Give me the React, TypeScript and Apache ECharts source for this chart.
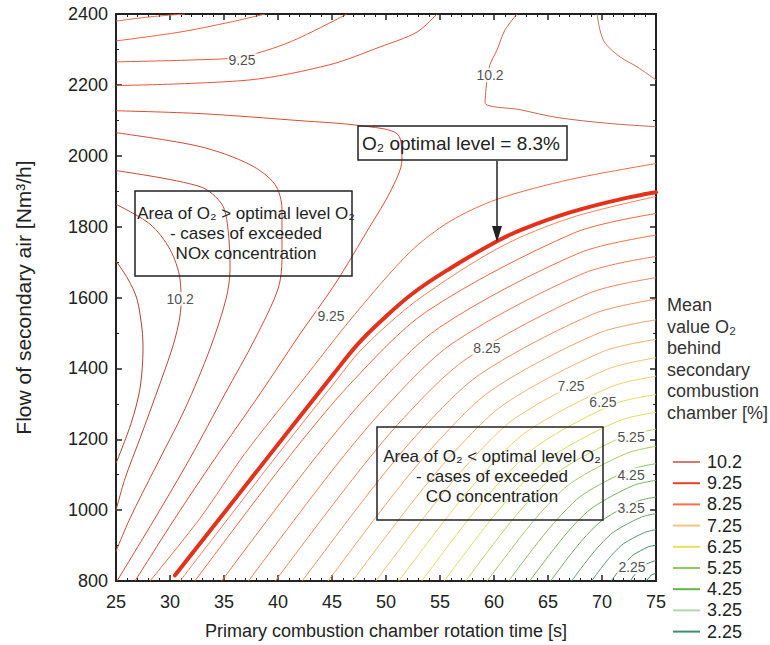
import React, { useEffect, useRef } from "react";
import * as echarts from "echarts";

const FONT = "'Liberation Sans', Arial, Helvetica, sans-serif";

// axis ranges
const xMin = 25, xMax = 75, xStep = 5;
const yMin = 800, yMax = 2400, yStep = 200;

// legend levels (mean O2 behind secondary combustion chamber, %)
const legendLevels = ["10.2", "9.25", "8.25", "7.25", "6.25", "5.25", "4.25", "3.25", "2.25"];

// ---- contour lines: [rotation time s, secondary air Nm3/h] ----
// upper-left family
const lineA1 = [[25, 2380], [28.15, 2392], [31.39, 2400]];
const lineA2 = [[25, 2324], [30.93, 2349], [35.56, 2377], [38.8, 2400]];
const lineA3 = [[25, 2265], [32.78, 2271], [36.67, 2279], [41.11, 2321], [46.39, 2400]];
const lineA4 = [[25, 2198], [37.41, 2214], [44.81, 2257], [49.44, 2307], [52.87, 2349], [54.72, 2400]];
const lineA5 = [[25, 2127], [32.78, 2119], [42.04, 2099], [47.59, 2085], [51.11, 2060], [51.48, 1989], [50.37, 1897], [48.52, 1801], [45.28, 1638], [42.04, 1497], [38.33, 1328], [34.17, 1146], [30.46, 977], [26.76, 800]];
const lineA6 = [[25, 2065], [32.78, 2026], [37.41, 1975], [39.72, 1919], [40.37, 1849], [40.37, 1708], [40.0, 1624], [37.87, 1483], [35.09, 1328], [31.85, 1146], [28.61, 977], [25.09, 800]];
const lineA7 = [[25, 1958], [32.78, 1913], [34.81, 1863], [35.37, 1793], [35.56, 1680], [35.19, 1596], [33.7, 1455], [31.39, 1286], [28.61, 1118], [26.3, 977], [25, 884]];
const lineA8 = [[25, 1863], [28.15, 1807], [30.0, 1736], [30.93, 1652], [31.02, 1582], [30.46, 1483], [29.07, 1357], [27.22, 1202], [25.83, 1089], [25, 999]];
const lineA9 = [[25, 1703], [26.11, 1652], [26.94, 1596], [27.41, 1511], [27.5, 1455], [27.22, 1343], [26.39, 1244], [25, 1132]];
const lineAbove = [[28.15, 800], [32.78, 977], [36.94, 1160], [42.04, 1357], [47.13, 1553], [52.22, 1728], [55.93, 1815], [60.28, 1877], [67.04, 1933], [75, 1978]];
// upper-right family
const lineB1 = [[62.13, 2400], [61.02, 2355], [60.28, 2299], [59.63, 2257], [59.35, 2214], [59.17, 2150], [62.41, 2130], [65.83, 2108], [70.74, 2091], [75, 2082]];
const lineB2 = [[69.54, 2400], [69.81, 2355], [70.28, 2318], [71.67, 2279], [73.24, 2251], [75, 2214]];
// lower-right family
const lineC01 = [[30.93, 800], [39.26, 1129], [45.37, 1365], [47.78, 1455], [52.78, 1590], [60.56, 1742], [67.22, 1826], [75, 1885]];
const lineC02 = [[32.3, 800], [40.96, 1148], [46.74, 1358], [53.74, 1560], [67.48, 1783], [75, 1837]];
const lineC03 = [[34.78, 800], [42.94, 1128], [48.38, 1326], [54.97, 1516], [67.92, 1726], [75, 1776]];
const lineC04 = [[37.27, 800], [44.92, 1108], [50.03, 1293], [56.21, 1472], [68.35, 1669], [75, 1716]];
const lineC05 = [[39.75, 800], [46.9, 1087], [51.67, 1261], [57.45, 1427], [68.79, 1612], [75, 1656]];
const lineC06 = [[42.24, 800], [48.89, 1067], [53.32, 1228], [58.69, 1383], [69.23, 1554], [75, 1595]];
const lineC07 = [[44.63, 800], [50.79, 1048], [54.9, 1197], [59.88, 1341], [69.65, 1499], [75, 1537]];
const lineC08 = [[46.89, 800], [52.6, 1029], [56.4, 1167], [61.0, 1300], [70.05, 1447], [75, 1482]];
const lineC09 = [[49.06, 800], [54.32, 1011], [57.83, 1139], [62.08, 1262], [70.43, 1397], [75, 1430]];
const lineC10 = [[51.18, 800], [56.02, 994], [59.24, 1111], [63.14, 1224], [70.81, 1348], [75, 1378]];
const lineC11 = [[53.31, 800], [57.71, 977], [60.64, 1083], [64.2, 1186], [71.18, 1300], [75, 1326]];
const lineC12 = [[55.39, 800], [59.37, 960], [62.02, 1056], [65.23, 1149], [71.55, 1252], [75, 1276]];
const lineC13 = [[57.38, 800], [60.95, 944], [63.34, 1030], [66.22, 1114], [71.9, 1206], [75, 1228]];
const lineC14 = [[59.36, 800], [62.54, 927], [64.65, 1004], [67.21, 1078], [72.25, 1160], [75, 1180]];
const lineC15 = [[61.35, 800], [64.12, 911], [65.97, 978], [68.2, 1043], [72.6, 1114], [75, 1131]];
const lineC16 = [[63.3, 800], [65.67, 895], [67.25, 953], [69.17, 1008], [72.94, 1070], [75, 1084]];
const lineC17 = [[65.24, 800], [67.22, 880], [68.54, 928], [70.14, 974], [73.28, 1025], [75, 1037]];
const lineC18 = [[67.18, 800], [68.77, 864], [69.83, 902], [71.11, 939], [73.62, 980], [75, 990]];
const lineC19 = [[69.03, 800], [70.25, 849], [71.05, 878], [72.03, 906], [73.95, 937], [75, 945]];
const lineC20 = [[70.84, 800], [71.69, 834], [72.25, 854], [72.93, 874], [74.27, 896], [75, 901]];
const lineC21 = [[72.6, 800], [73.09, 820], [73.81, 843], [75, 858]];
const lineC22 = [[74.1, 800], [74.55, 816], [75, 822]];
// optimal O2 level line (8.3 %)
const optimalLine = [[30.46, 816], [38.98, 1146], [45.09, 1382], [47.41, 1469], [49.44, 1531], [52.5, 1612], [55.93, 1682], [60.28, 1759], [62.69, 1793], [67.04, 1840], [71.67, 1877], [75, 1897]];

// contour labels
const labelTexts = ["9.25", "10.2", "10.2", "9.25", "8.25", "7.25", "6.25", "5.25", "4.25", "3.25", "2.25"];
const labelX = [36.67, 59.63, 30.93, 44.91, 59.35, 67.13, 70.09, 72.69, 72.69, 72.69, 72.78];
const labelY = [2270, 2228, 1596, 1548, 1458, 1351, 1306, 1207, 1100, 1005, 839];

const legendColors = ["#d9786c", "#e8402a", "#f0714f", "#f7c47e", "#e6e05a", "#8fcb62", "#5fb44a", "#b2d8b0", "#3f8f6e"];

// table for the library: data, level name, colour
const contourTable: [number[][], string, string][] = [
  [lineA1, "8.25", "#ea6a45"],
  [lineA2, "8.25", "#ea6440"],
  [lineA3, "9.25", "#e65a3a"],
  [lineA4, "9.25", "#e4553a"],
  [lineA5, "9.25", "#dc4c30"],
  [lineA6, "9.25", "#cf4a36"],
  [lineA7, "10.2", "#c44a3a"],
  [lineA8, "10.2", "#b8483c"],
  [lineA9, "10.2", "#ad4436"],
  [lineAbove, "9.25", "#ee6a45"],
  [lineB1, "10.2", "#c9644c"],
  [lineB2, "10.2", "#cf6e56"],
  [lineC01, "8.25", "#f2805e"],
  [lineC02, "8.25", "#f0683f"],
  [lineC03, "8.25", "#f27048"],
  [lineC04, "8.25", "#f27a52"],
  [lineC05, "8.25", "#f2845a"],
  [lineC06, "7.25", "#f29262"],
  [lineC07, "7.25", "#f3a26a"],
  [lineC08, "7.25", "#f3b272"],
  [lineC09, "7.25", "#f2c274"],
  [lineC10, "6.25", "#eed06a"],
  [lineC11, "6.25", "#e6dc60"],
  [lineC12, "6.25", "#d6e062"],
  [lineC13, "5.25", "#bcd66a"],
  [lineC14, "5.25", "#a4cb68"],
  [lineC15, "4.25", "#8cbf60"],
  [lineC16, "4.25", "#78b35a"],
  [lineC17, "3.25", "#6ea862"],
  [lineC18, "3.25", "#66a06c"],
  [lineC19, "3.25", "#5a9870"],
  [lineC20, "2.25", "#4a8c6a"],
  [lineC21, "2.25", "#3e8262"],
  [lineC22, "2.25", "#367a5a"],
];

const legendTitle = ["Mean", "value O\u2082", "behind", "secondary", "combustion", "chamber [%]"];

export default function App() {
  const ref = useRef<HTMLDivElement>(null);
  useEffect(() => {
    if (!ref.current) return;
    const chart = echarts.init(ref.current, undefined, { renderer: "svg" });

    const series: any[] = contourTable.map(([data, level, color]) => ({
      type: "line",
      name: level,
      data,
      showSymbol: false,
      symbol: "none",
      smooth: 0.3,
      silent: true,
      z: 2,
      lineStyle: { color, width: 1 },
      itemStyle: { color },
    }));
    series.push({
      type: "line",
      name: "optimal",
      data: optimalLine,
      showSymbol: false,
      symbol: "none",
      smooth: 0.4,
      silent: true,
      z: 3,
      lineStyle: { color: "#e2321c", width: 4, cap: "round" },
    });
    series.push({
      type: "scatter",
      name: "labels",
      symbolSize: 0,
      silent: true,
      z: 5,
      data: labelTexts.map((t, i) => ({ name: t, value: [labelX[i], labelY[i]] })),
      label: {
        show: true,
        position: "inside",
        formatter: "{b}",
        fontSize: 14,
        fontFamily: FONT,
        color: "#222",
        backgroundColor: "#fff",
        padding: [0, 1],
      },
    });

    const axisCommon = {
      type: "value" as const,
      axisLine: { show: true, onZero: false, lineStyle: { color: "#222", width: 2 } },
      axisTick: { show: true, inside: true, length: 6, lineStyle: { color: "#222", width: 1.5 } },
      splitLine: { show: false },
    };

    const textBlock = (lines: string[], cx: number, y0: number, dy: number, size: number) =>
      lines.map((t, i) => ({
        type: "text",
        x: cx,
        y: y0 + i * dy,
        z: 100,
        silent: true,
        style: {
          text: t,
          font: `${size}px ${FONT}`,
          fill: "#222",
          align: "center",
          verticalAlign: "middle",
          textAlign: "center",
          textVerticalAlign: "middle",
        },
      }));

    chart.setOption({
      animation: false,
      backgroundColor: "#fff",
      textStyle: { fontFamily: FONT },
      grid: { left: 116, right: 114, top: 14, bottom: 62, containLabel: false },
      xAxis: [
        {
          ...axisCommon,
          position: "bottom",
          min: xMin,
          max: xMax,
          interval: xStep,
          minorTick: { show: true, splitNumber: 5, length: 3, lineStyle: { color: "#222" } },
          axisLabel: { fontSize: 18, color: "#222", margin: 12, fontFamily: FONT, formatter: (v: number) => String(v) },
          name: "Primary combustion chamber rotation time [s]",
          nameLocation: "middle",
          nameGap: 41,
          nameTextStyle: { fontSize: 18, color: "#222", fontFamily: FONT },
        },
        {
          ...axisCommon,
          position: "top",
          min: xMin,
          max: xMax,
          interval: xStep,
          minorTick: { show: true, splitNumber: 5, length: 3, lineStyle: { color: "#222" } },
          axisLabel: { show: false },
        },
      ],
      yAxis: [
        {
          ...axisCommon,
          position: "left",
          min: yMin,
          max: yMax,
          interval: yStep,
          minorTick: { show: true, splitNumber: 2, length: 3, lineStyle: { color: "#222" } },
          axisLabel: { fontSize: 18, color: "#222", margin: 8, fontFamily: FONT, formatter: (v: number) => String(v) },
          name: "Flow of secondary air [Nm\u00b3/h]",
          nameLocation: "middle",
          nameRotate: 90,
          nameGap: 82,
          nameTextStyle: { fontSize: 21, color: "#222", fontFamily: FONT },
        },
        {
          ...axisCommon,
          position: "right",
          min: yMin,
          max: yMax,
          interval: yStep,
          minorTick: { show: true, splitNumber: 2, length: 3, lineStyle: { color: "#222" } },
          axisLabel: { show: false },
        },
      ],
      legend: {
        data: legendLevels.map((n, i) => ({ name: n, icon: "rect", itemStyle: { color: legendColors[i] } })),
        orient: "vertical",
        left: 673,
        top: 453,
        padding: 0,
        itemWidth: 27,
        itemHeight: 2,
        itemGap: 3.2,
        selectedMode: false,
        textStyle: { fontSize: 18, lineHeight: 18, color: "#222", fontFamily: FONT, padding: [0, 0, 0, 2] },
      },
      graphic: [
        { type: "rect", z: 100, silent: true, shape: { x: 135, y: 191, width: 217, height: 85 }, style: { fill: "none", stroke: "#222", lineWidth: 1.5 } },
        ...textBlock(["Area of O\u2082 > optimal level O\u2082", "- cases of exceeded", "NOx concentration"], 246, 213, 20, 17),
        { type: "rect", z: 100, silent: true, shape: { x: 358, y: 126, width: 209, height: 34 }, style: { fill: "none", stroke: "#222", lineWidth: 1.5 } },
        ...textBlock(["O\u2082 optimal level = 8.3%"], 461, 143, 20, 19),
        { type: "line", z: 100, silent: true, shape: { x1: 497, y1: 161, x2: 497, y2: 232 }, style: { stroke: "#222", lineWidth: 1.5 } },
        { type: "polygon", z: 100, silent: true, shape: { points: [[492, 226], [502, 226], [497, 242]] }, style: { fill: "#222" } },
        { type: "rect", z: 100, silent: true, shape: { x: 377, y: 427, width: 226, height: 93 }, style: { fill: "none", stroke: "#222", lineWidth: 1.5 } },
        ...textBlock(["Area of O\u2082 < optimal level O\u2082", "- cases of exceeded", "CO concentration"], 492, 456, 20, 17),
        ...legendTitle.map((t, i) => ({
          type: "text",
          x: 667,
          y: 305 + i * 21.6,
          z: 100,
          silent: true,
          style: { text: t, font: `18px ${FONT}`, fill: "#333", align: "left", verticalAlign: "middle", textAlign: "left", textVerticalAlign: "middle" },
        })),
      ],
      series,
    });
    return () => chart.dispose();
  }, []);
  return <div ref={ref} style={{ position: "fixed", left: 0, top: 0, width: 770, height: 645 }} />;
}
